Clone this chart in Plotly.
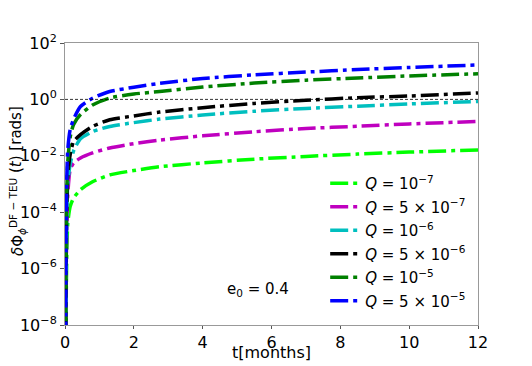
import plotly.graph_objects as go

# time in months
t = [0.02, 0.04, 0.08, 0.15, 0.25, 0.45, 0.8, 1.3, 2.0, 2.75, 4.0, 5.5, 7.0, 8.5, 10.0, 12.0]

q_labels = [
    "<i>Q</i> = 10<sup>−7</sup>",
    "<i>Q</i> = 5 × 10<sup>−7</sup>",
    "<i>Q</i> = 10<sup>−6</sup>",
    "<i>Q</i> = 5 × 10<sup>−6</sup>",
    "<i>Q</i> = 10<sup>−5</sup>",
    "<i>Q</i> = 5 × 10<sup>−5</sup>",
]

phi_q1e7 = [1e-11, 3e-7, 4e-5, 1.6e-4, 3.2e-4, 6.3e-4, 1.2e-3, 2.1e-3, 3.0e-3, 4.1e-3, 5.6e-3, 7.6e-3, 9.5e-3, 1.15e-2, 1.35e-2, 1.62e-2]
phi_q5e7 = [1e-10, 3e-6, 4e-4, 3.2e-3, 5.6e-3, 8.3e-3, 1.26e-2, 1.9e-2, 2.7e-2, 3.6e-2, 5.1e-2, 7.1e-2, 9.3e-2, 0.112, 0.135, 0.166]
phi_q1e6 = [3e-10, 1e-5, 1e-3, 5e-3, 1.5e-2, 4e-2, 7.2e-2, 0.11, 0.15, 0.2, 0.28, 0.38, 0.48, 0.575, 0.69, 0.85]
phi_q5e6 = [5e-10, 3e-5, 2e-3, 1.1e-2, 3.2e-2, 5.6e-2, 0.11, 0.19, 0.26, 0.355, 0.51, 0.72, 0.93, 1.15, 1.32, 1.7]
phi_q1e5 = [1e-9, 1e-4, 6e-3, 4.5e-2, 0.13, 0.29, 0.63, 1.12, 1.55, 1.9, 2.75, 3.8, 4.8, 5.75, 6.8, 8.1]
phi_q5e5 = [3e-9, 3e-4, 1.6e-2, 8.5e-2, 0.2, 0.56, 1.1, 1.9, 2.7, 3.7, 5.5, 7.4, 9.3, 11.5, 13.5, 16.6]

series = [phi_q1e7, phi_q5e7, phi_q1e6, phi_q5e6, phi_q1e5, phi_q5e5]
colors = ["#00ff00", "#bf00bf", "#00bfbf", "#000000", "#008000", "#0000ff"]

fig = go.Figure()

for i, (lab, vals, col) in enumerate(zip(q_labels, series, colors)):
    fig.add_trace(go.Scatter(
        x=t, y=vals, name=lab, mode="lines", legendgroup=f"g{i}",
        line=dict(color=col, width=3.5, dash="18px,5px,4px,5px",
                  shape="spline", smoothing=0.6),
    ))

fig.add_hline(y=1, line=dict(color="black", width=0.8, dash="3px,2px"))

# helper: page pixel -> axis domain fraction (plot area 65..478 x 43..325)
def dx(px):
    return (px - 65) / 413

def dy(py):
    return (325 - py) / 282

fig.add_annotation(
    x=dx(258), y=dy(301), xref="x domain", yref="y domain",
    text="e<sub>0</sub> = 0.4", showarrow=False,
    font=dict(size=15, color="black"),
)
# axis labels as annotations so they sit where the reference has them
fig.add_annotation(
    x=0.5, y=dy(352), xref="x domain", yref="y domain",
    text="t[months]", showarrow=False, yanchor="middle",
    font=dict(size=16, color="black"),
)
# y label split in two: plotly loses the baseline after a sub followed by a sup
fig.add_annotation(
    x=dx(17), y=dy(217), xref="x domain", yref="y domain",
    text="<i>δ</i>Φ<sub><i>ϕ</i></sub><sup>DF − TEU</sup>",
    showarrow=False, textangle=-90, xanchor="center", yanchor="middle",
    font=dict(size=15, color="black"),
)
fig.add_annotation(
    x=dx(16), y=dy(140), xref="x domain", yref="y domain",
    text="(<i>t</i>) [rads]",
    showarrow=False, textangle=-90, xanchor="center", yanchor="middle",
    font=dict(size=15, color="black"),
)

# page body adds 8px offset, margins compensate
font = "DejaVu Sans, sans-serif"
fig.update_layout(
    width=532, height=366,
    margin=dict(l=57, r=62, t=35, b=49),
    plot_bgcolor="white", paper_bgcolor="white",
    font=dict(family=font, size=16, color="black"),
    showlegend=True,
    legend=dict(
        x=0.63, y=0.56, xanchor="left", yanchor="top",
        bgcolor="rgba(0,0,0,0)", font=dict(size=15),
        tracegroupgap=1, itemwidth=30,
    ),
)

fig.update_xaxes(
    range=[0, 12], tickvals=[0, 2, 4, 6, 8, 10, 12],
    showgrid=False, zeroline=False, automargin=False,
    showline=True, linecolor="#999", linewidth=1, mirror=True,
    ticks="outside", ticklen=3, tickcolor="#555",
    tickfont=dict(size=16),
)

fig.update_yaxes(
    type="log", range=[-8, 2], automargin=False,
    tickvals=[1e-8, 1e-6, 1e-4, 1e-2, 1, 100],
    ticktext=["10<sup>−8</sup>", "10<sup>−6</sup>", "10<sup>−4</sup>",
              "10<sup>−2</sup>", "10<sup>0</sup>", "10<sup>2</sup>"],
    showgrid=False, zeroline=False,
    showline=True, linecolor="#999", linewidth=1, mirror=True,
    ticks="outside", ticklen=4, tickcolor="#555",
    tickfont=dict(size=16),
)

fig.write_html("out.html")
